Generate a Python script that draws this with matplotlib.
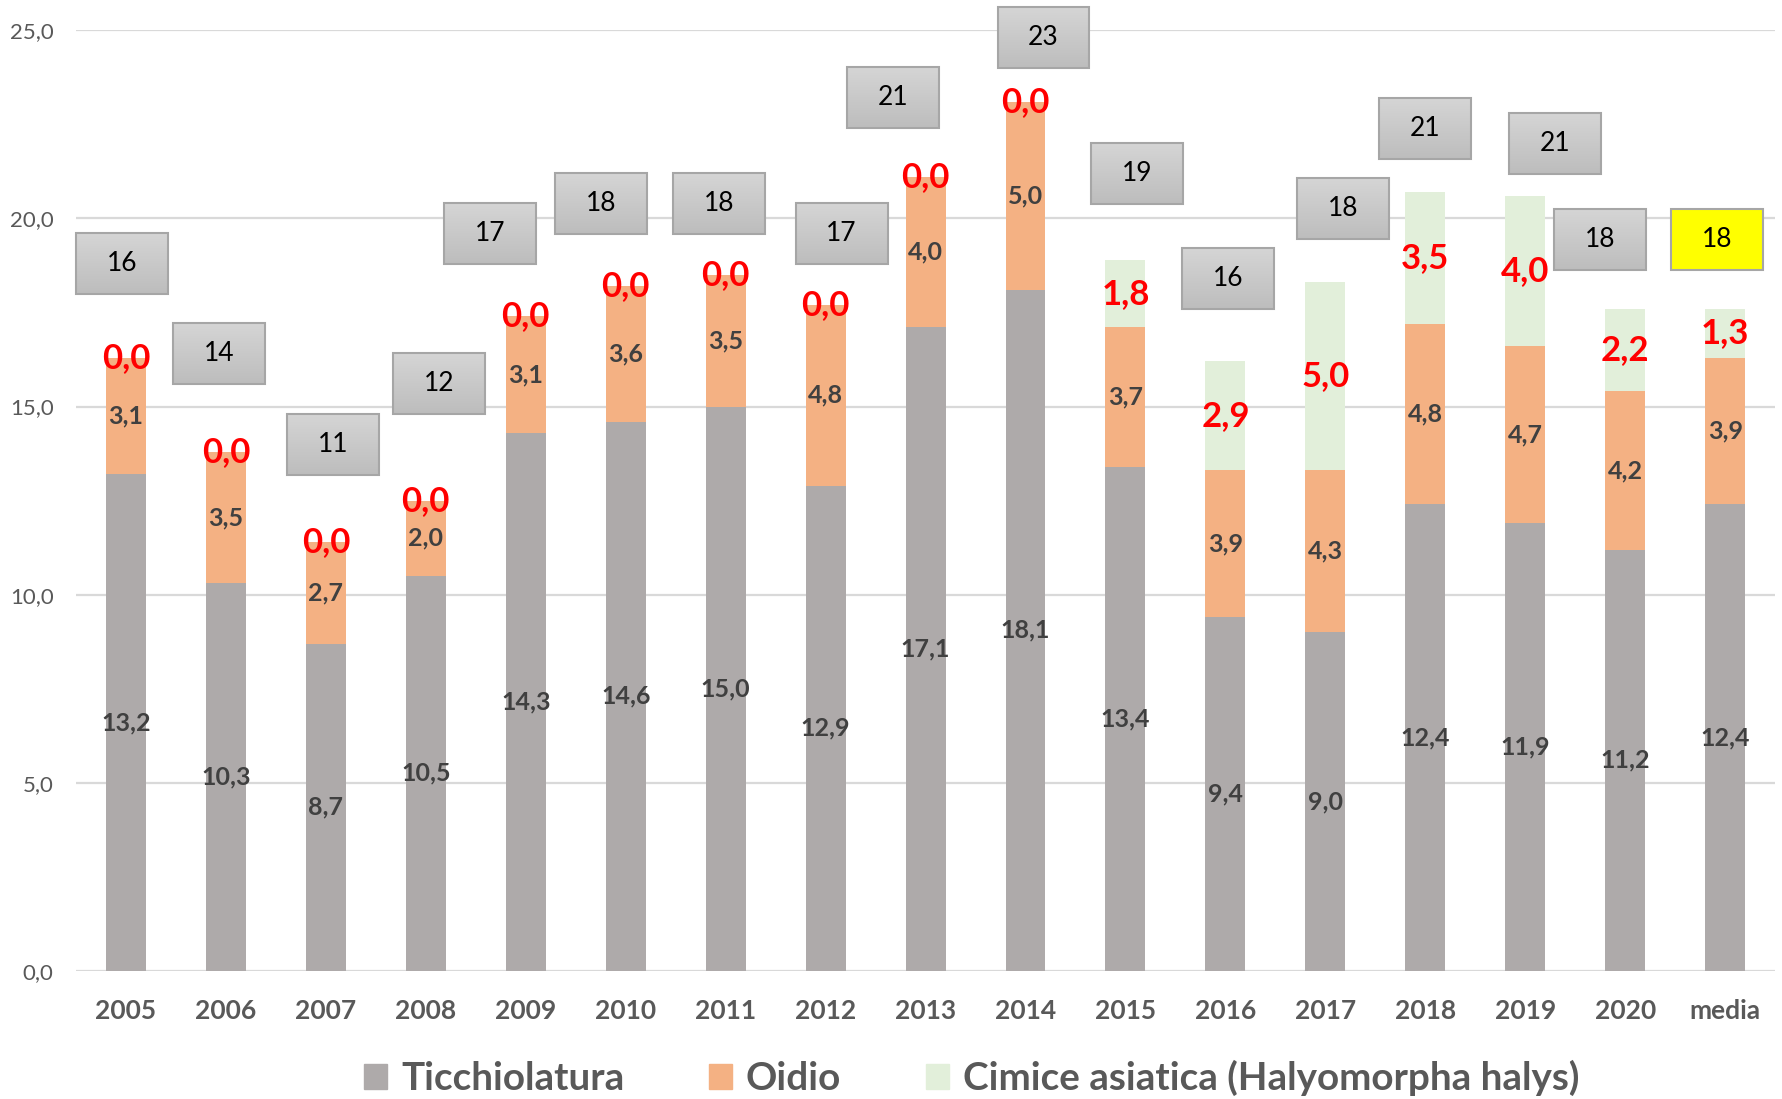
import numpy as np
import matplotlib
matplotlib.use("Agg")
import matplotlib.pyplot as plt
from matplotlib.patches import Rectangle, Patch
from matplotlib.colors import LinearSegmentedColormap

plt.rcParams['font.family'] = ['Lato', 'DejaVu Sans']

categories = ["2005", "2006", "2007", "2008", "2009", "2010", "2011", "2012",
              "2013", "2014", "2015", "2016", "2017", "2018", "2019", "2020", "media"]
ticchiolatura = [13.2, 10.3, 8.7, 10.5, 14.3, 14.6, 15.0, 12.9, 17.1, 18.1,
                 13.4, 9.4, 9.0, 12.4, 11.9, 11.2, 12.4]
oidio = [3.1, 3.5, 2.7, 2.0, 3.1, 3.6, 3.5, 4.8, 4.0, 5.0,
         3.7, 3.9, 4.3, 4.8, 4.7, 4.2, 3.9]
cimice = [0.0, 0.0, 0.0, 0.0, 0.0, 0.0, 0.0, 0.0, 0.0, 0.0,
          1.8, 2.9, 5.0, 3.5, 4.0, 2.2, 1.3]
trattamenti = [16, 14, 11, 12, 17, 18, 18, 17, 21, 23, 19, 16, 18, 21, 21, 18, 18]

# where the grey count boxes sit (x shift from the bar, y centre in data units)
box_dx = [-0.04, -0.07, 0.07, 0.13, -0.36, -0.25, -0.07, 0.16, -0.33, 0.18,
          0.12, 0.03, 0.18, 0.0, 0.30, -0.25, -0.08]
box_y = [18.8, 16.4, 14.0, 15.6, 19.6, 20.4, 20.4, 19.6, 23.2, 24.8,
         21.2, 18.4, 20.25, 22.4, 22.0, 19.45, 19.45]

c_tic = "#aeaaaa"
c_oid = "#f4b183"
c_cim = "#e2efda"


def fmt(v):
    return f"{v:.1f}".replace(".", ",")


fig = plt.figure(figsize=(17.83, 10.99), dpi=100)
ax = fig.add_axes([0.0426, 0.1165, 0.953, 0.856])

x = np.arange(len(categories))
tic = np.array(ticchiolatura)
oid = np.array(oidio)
cim = np.array(cimice)

w = 0.4
ax.bar(x, tic, width=w, color=c_tic, zorder=2)
ax.bar(x, oid, width=w, bottom=tic, color=c_oid, zorder=2)
ax.bar(x, cim, width=w, bottom=tic + oid, color=c_cim, zorder=2)

for i in range(len(x)):
    ax.text(x[i], tic[i] / 2, fmt(tic[i]), ha="center", va="center",
            fontsize=18, fontweight="bold", color="#404040", zorder=4)
    ax.text(x[i], tic[i] + oid[i] / 2, fmt(oid[i]), ha="center", va="center",
            fontsize=18, fontweight="bold", color="#404040", zorder=4)
    ax.text(x[i], tic[i] + oid[i] + cim[i] / 2, fmt(cim[i]), ha="center", va="center",
            fontsize=25, fontweight="bold", color="#ff0000", zorder=4)

# count boxes
bw, bh = 0.92, 1.62
grad = np.linspace(0, 1, 64).reshape(-1, 1)
gcmap = LinearSegmentedColormap.from_list("g", ["#d5d5d5", "#bdbdbd"])
for i in range(len(x)):
    cx = x[i] + box_dx[i]
    cy = box_y[i]
    x0, x1 = cx - bw / 2, cx + bw / 2
    y0, y1 = cy - bh / 2, cy + bh / 2
    if categories[i] == "media":
        ax.add_patch(Rectangle((x0, y0), bw, bh, facecolor="#ffff00",
                               edgecolor="#a6a6a6", lw=1.5, zorder=5, clip_on=False))
    else:
        im = ax.imshow(grad, extent=(x0, x1, y0, y1), origin="upper", aspect="auto",
                       cmap=gcmap, zorder=5)
        im.set_clip_on(False)
        ax.add_patch(Rectangle((x0, y0), bw, bh, facecolor="none",
                               edgecolor="#a6a6a6", lw=1.5, zorder=6, clip_on=False))
    ax.text(cx, cy, str(trattamenti[i]), ha="center", va="center",
            fontsize=19, color="black", zorder=7, clip_on=False)

ax.set_xlim(-0.5, len(x) - 0.5)
ax.set_ylim(0, 25)
ax.set_yticks(np.arange(0, 26, 5))
ax.set_yticklabels([fmt(v) for v in np.arange(0, 26, 5)], fontsize=16, color="#595959")
ax.set_xticks(x)
ax.set_xticklabels(categories, fontsize=19, fontweight="bold", color="#595959")
ax.tick_params(axis="both", length=0)
ax.tick_params(axis="y", pad=16)
ax.tick_params(axis="x", pad=20)
ax.yaxis.grid(True, color="#d9d9d9", lw=1.6)
ax.set_axisbelow(True)
for s in ax.spines.values():
    s.set_visible(False)

handles = [Patch(color=c_tic), Patch(color=c_oid), Patch(color=c_cim)]
labels = ["Ticchiolatura", "Oidio", "Cimice asiatica (Halyomorpha halys)"]
leg = fig.legend(handles, labels, loc="center", bbox_to_anchor=(0.545, 0.019), ncol=3,
                 frameon=False, handlelength=0.6, handleheight=0.6, handletextpad=0.35,
                 columnspacing=2.2, prop={"size": 27.8, "weight": "bold"})
for t in leg.get_texts():
    t.set_color("#595959")

fig.savefig("out.png", dpi=100)
